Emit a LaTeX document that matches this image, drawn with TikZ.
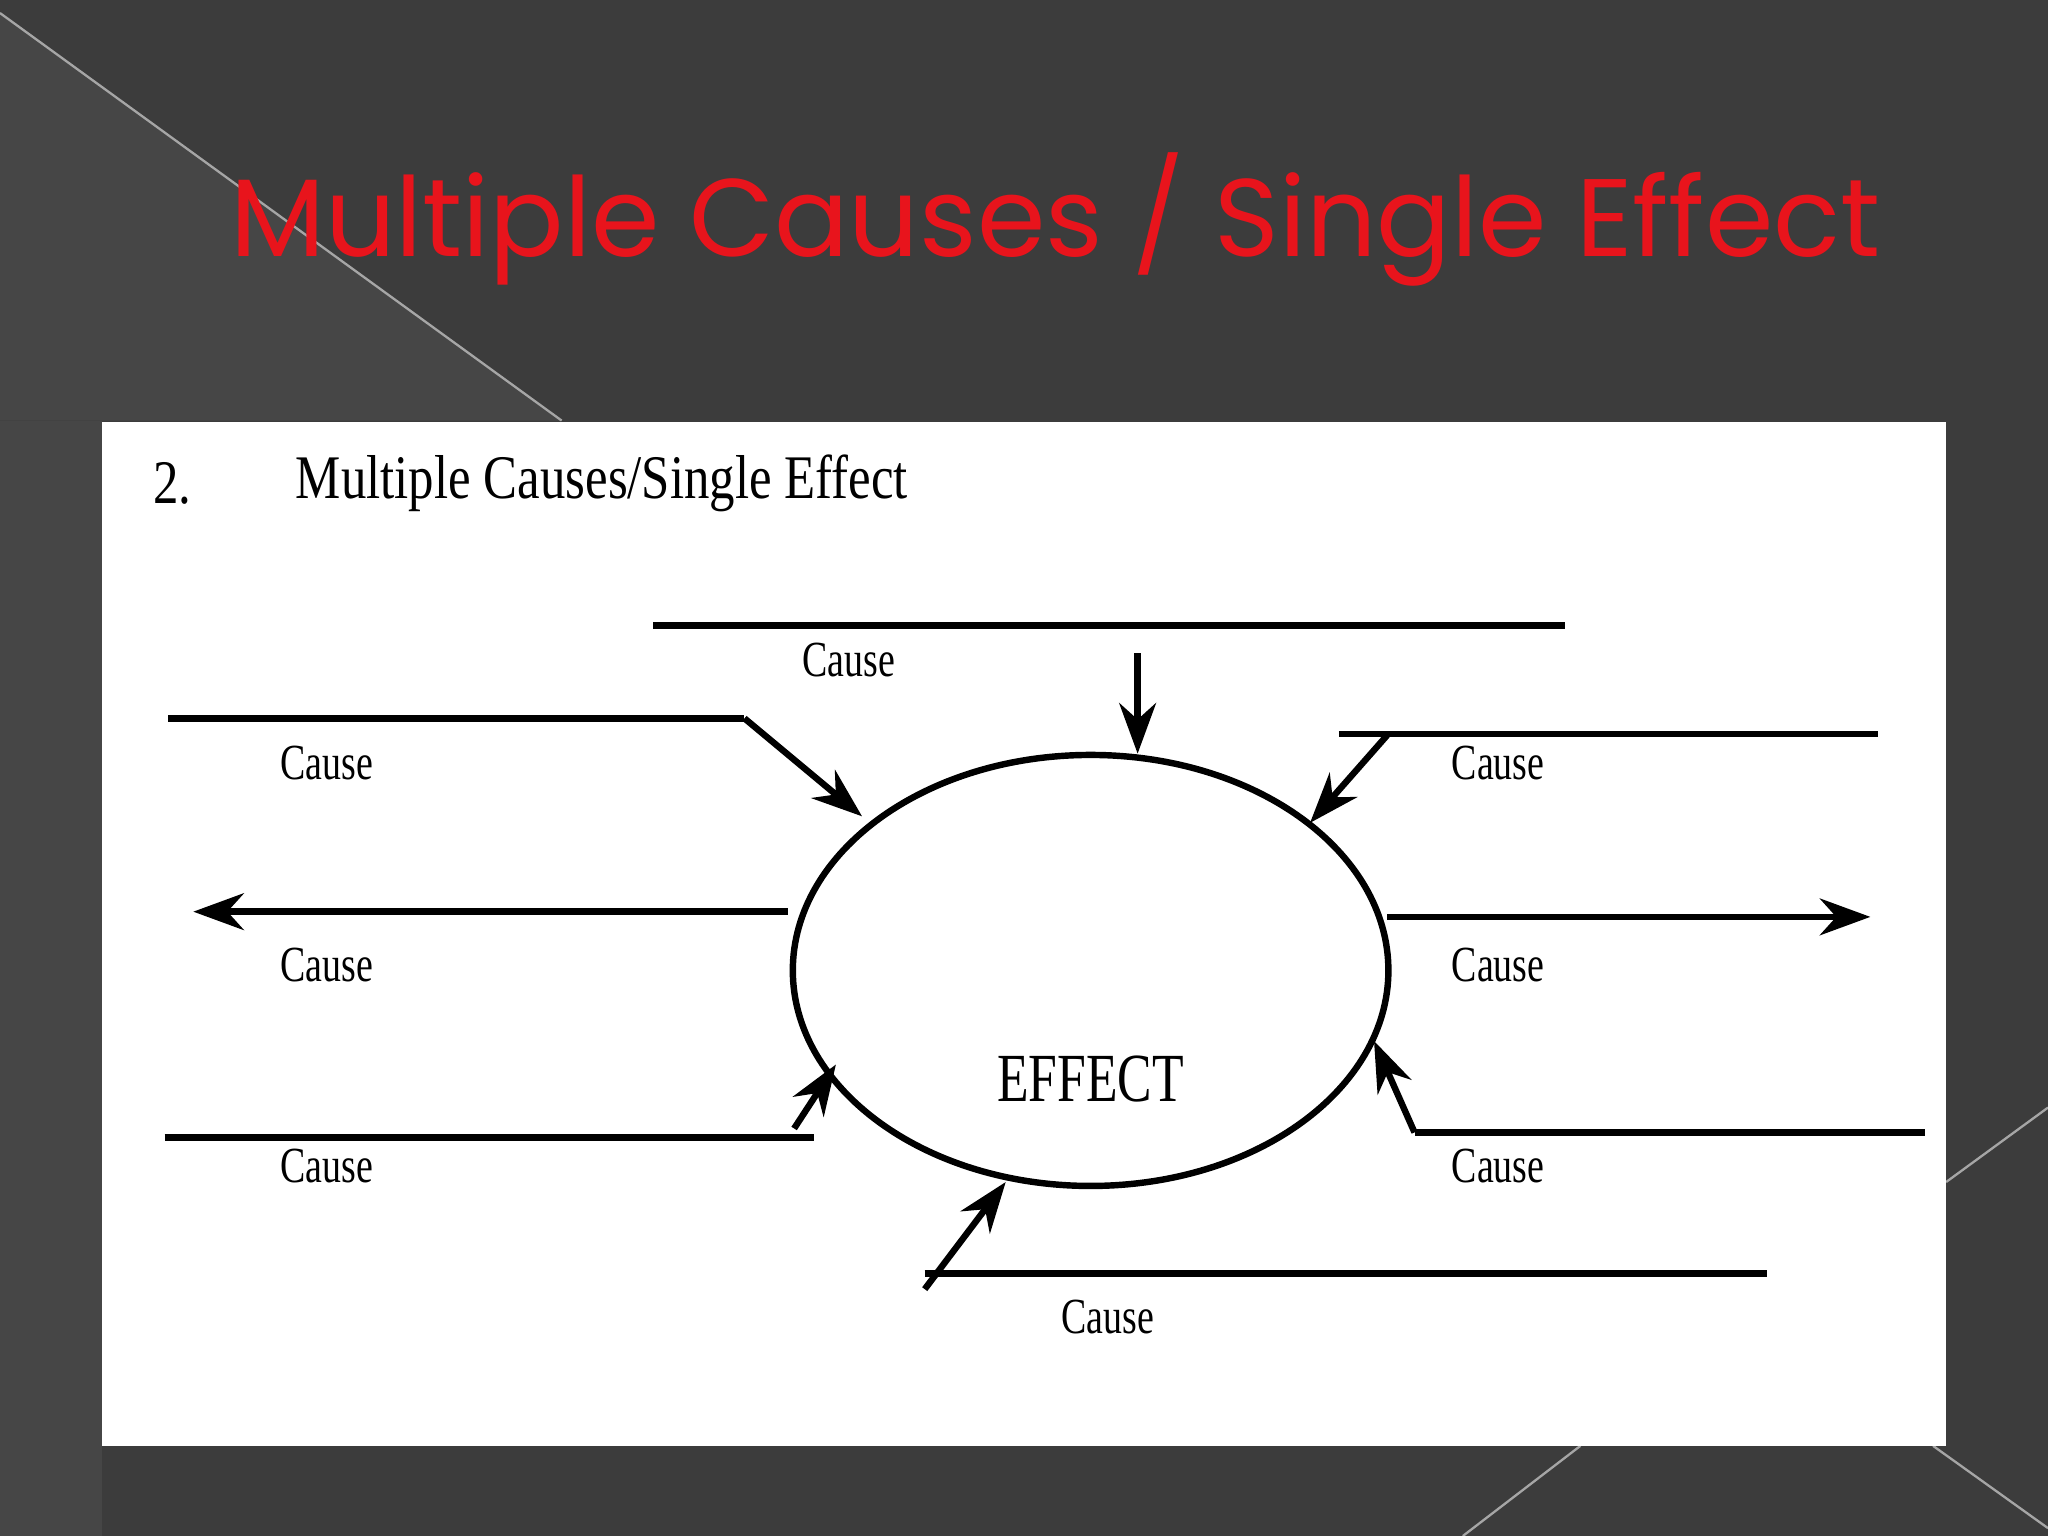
\documentclass[tikz,border=0pt]{standalone}
\usepackage{fontspec}
\setmainfont{Liberation Serif}
\newfontfamily\titlefont{Poppins}
\usetikzlibrary{arrows.meta}
\definecolor{bgdark}{HTML}{3C3C3C}
\definecolor{bgtri}{HTML}{464646}
\definecolor{titlered}{HTML}{E8141C}
\begin{document}
\begin{tikzpicture}[x=0.01cm,y=-0.01cm,
  causeline/.style={line width=1.4pt,black},
  causearrow/.style={line width=1.4pt,black,-{Stealth[length=11pt,width=8pt]}},
  causelabel/.style={font=\fontsize{11}{11}\selectfont,xscale=0.75,inner sep=0pt},
  deco/.style={draw=gray!70,line width=0.5pt}]
\useasboundingbox (0,0) rectangle (1568,1176);
\fill[bgdark] (0,0) rectangle (1568,1176);
\fill[bgtri] (0,10) -- (430,322) -- (0,322) -- cycle;
\fill[bgtri] (0,322) rectangle (78,1176);
\draw[deco] (0,10) -- (430,322);
\draw[deco] (1490,905) -- (1568,848);
\draw[deco] (1120,1176) -- (1210,1107);
\draw[deco] (1480,1107) -- (1568,1170);
\node[text=titlered,font=\titlefont\fontsize{24}{24}\selectfont] (title) at (808,168) {Multiple Causes / Single Effect};
\fill[white] (78,323) rectangle (1490,1107);
\node[font=\fontsize{13.5}{13.5}\selectfont,xscale=0.82,anchor=west,inner sep=0pt] (num) at (117,370) {2.};
\node[font=\fontsize{13.5}{13.5}\selectfont,xscale=0.82,anchor=west,inner sep=0pt] (sub) at (226,370) {Multiple Causes/Single Effect};
\draw[line width=1.4pt] (835,743) ellipse [x radius=228,y radius=165];
\node[font=\fontsize{15}{15}\selectfont,xscale=0.75] (effect) at (835,826) {EFFECT};
% top
\coordinate (t1) at (500,479); \coordinate (t2) at (1198,479);
\draw[causeline] (t1) -- (t2);
\node[causelabel] (c1) at (650,505) {Cause};
\coordinate (ta) at (871,500); \coordinate (tb) at (871,577);
\draw[causearrow] (ta) -- (tb);
% left upper
\coordinate (lu1) at (129,550); \coordinate (lu2) at (570,550);
\draw[causeline] (lu1) -- (lu2);
\coordinate (lua) at (660,625);
\draw[causearrow] (lu2) -- (lua);
\node[causelabel] (c2) at (250,584) {Cause};
% right upper
\coordinate (ru1) at (1025,562); \coordinate (ru2) at (1438,562);
\draw[causeline] (ru1) -- (ru2);
\coordinate (rus) at (1062,563); \coordinate (rua) at (1003,630);
\draw[causearrow] (rus) -- (rua);
\node[causelabel] (c3) at (1147,584) {Cause};
% left middle
\coordinate (lm1) at (603,698); \coordinate (lm2) at (148,698);
\draw[causearrow] (lm1) -- (lm2);
\node[causelabel] (c4) at (250,739) {Cause};
% right middle
\coordinate (rm1) at (1062,702); \coordinate (rm2) at (1432,702);
\draw[causearrow] (rm1) -- (rm2);
\node[causelabel] (c5) at (1147,739) {Cause};
% left lower
\coordinate (ll1) at (126,871); \coordinate (ll2) at (623,871);
\draw[causeline] (ll1) -- (ll2);
\coordinate (lls) at (608,864); \coordinate (lla) at (640,815);
\draw[causearrow] (lls) -- (lla);
\node[causelabel] (c6) at (250,893) {Cause};
% right lower
\coordinate (rl1) at (1083,867); \coordinate (rl2) at (1474,867);
\draw[causeline] (rl1) -- (rl2);
\coordinate (rla) at (1052,797);
\draw[causearrow] (rl1) -- (rla);
\node[causelabel] (c7) at (1147,893) {Cause};
% bottom
\coordinate (b1) at (708,975); \coordinate (b2) at (1353,975);
\draw[causeline] (b1) -- (b2);
\coordinate (bs) at (708,987); \coordinate (ba) at (770,905);
\draw[causearrow] (bs) -- (ba);
\node[causelabel] (c8) at (848,1008) {Cause};
\end{tikzpicture}
\end{document}
